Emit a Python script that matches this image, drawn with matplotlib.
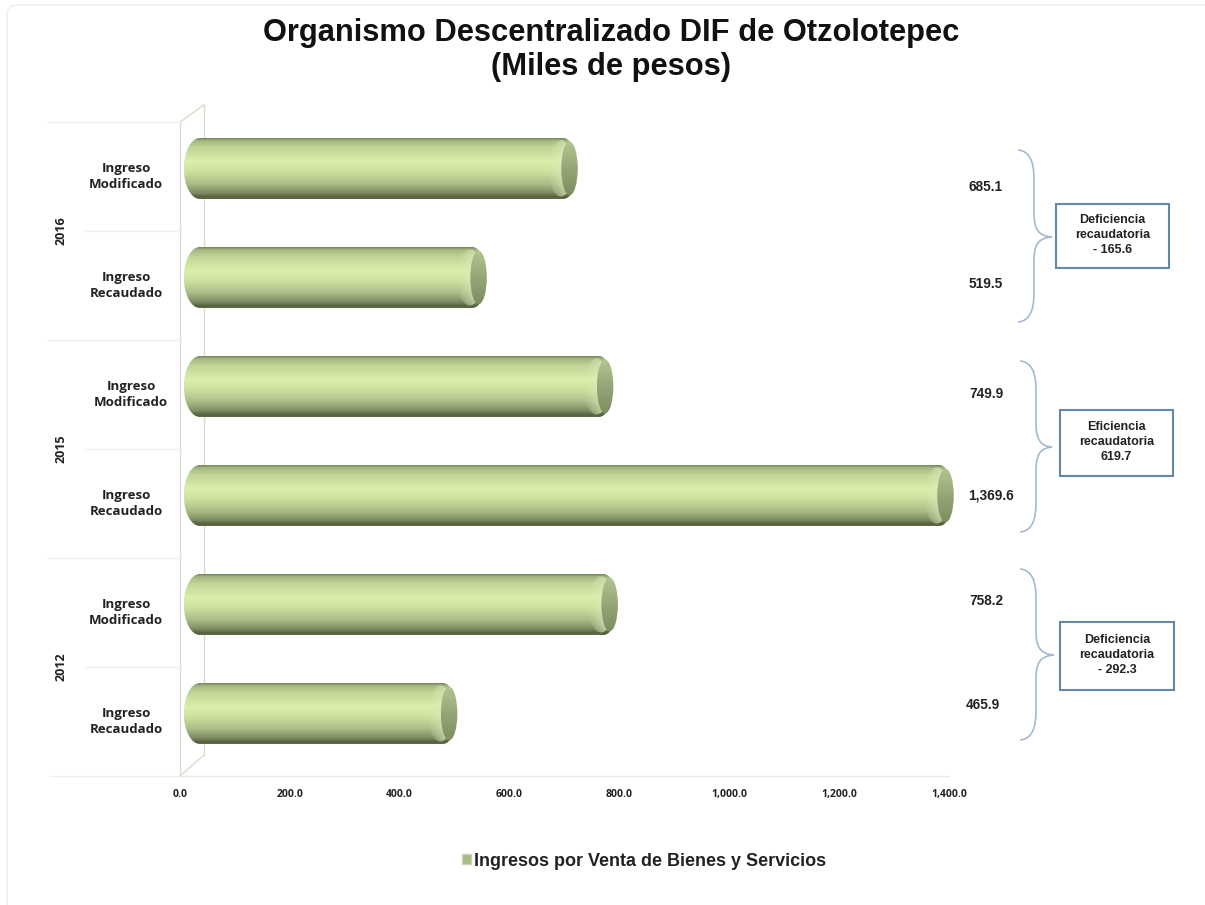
import matplotlib
matplotlib.use('Agg')
import matplotlib.pyplot as plt
import numpy as np
from matplotlib.colors import LinearSegmentedColormap
from matplotlib.patches import Ellipse, FancyBboxPatch, PathPatch, Patch, Rectangle
from matplotlib.path import Path

plt.rcParams['font.family'] = ['Liberation Sans', 'DejaVu Sans']

# data, top of the chart first
years = ['2016', '2015', '2012']
categories = ['Ingreso\nModificado', 'Ingreso\nRecaudado', 'Ingreso\nModificado',
              'Ingreso\nRecaudado', 'Ingreso\nModificado', 'Ingreso\nRecaudado']
values = [685.1, 519.5, 749.9, 1369.6, 758.2, 465.9]
xticks = [0, 200, 400, 600, 800, 1000, 1200, 1400]
notes = ['Deficiencia\nrecaudatoria\n- 165.6', 'Eficiencia\nrecaudatoria\n619.7',
         'Deficiencia\nrecaudatoria\n- 292.3']
series_name = 'Ingresos por Venta de Bienes y Servicios'
title = 'Organismo Descentralizado DIF de Otzolotepec\n(Miles de pesos)'

# layout, in pixels of the 1205x905 picture
W, H = 1205, 905
label_x = [126, 126, 131, 126, 126, 126]
value_pos = [(986, 187), (986, 284), (986, 394), (991, 495), (986, 601), (983, 705)]
year_pos = [(61, 231), (61, 449), (61, 667)]
boxes = [(1056, 204, 113, 64), (1060, 410, 113, 66), (1060, 622, 114, 68)]
braces = [(1018, 150, 322, 1034, 237, 1052), (1020, 361, 532, 1036, 447, 1052),
          (1020, 569, 740, 1036, 655, 1054)]
grid_start = [47, 85, 47, 85, 47, 85, 50]

fig = plt.figure(figsize=(W / 100, H / 100), dpi=100, facecolor='white')

# overlay in picture pixels, for frame and notes
ov = fig.add_axes([0, 0, 1, 1])
ov.set_xlim(0, W)
ov.set_ylim(H, 0)
ov.axis('off')

ax = fig.add_axes([180 / W, 1 - 776 / H, (949 - 180) / W, (776 - 122) / H])
ax.patch.set_alpha(0)
ax.set_xlim(0, 1400)
ax.set_ylim(5.5, -0.5)
for s in ax.spines.values():
    s.set_visible(False)
ax.set_xticks(xticks)
ax.set_xticklabels(['{:,.1f}'.format(t) for t in xticks], fontsize=7.5, fontweight='bold',
                   family=['Open Sans', 'DejaVu Sans'], color='#222222')
ax.tick_params(axis='x', length=0, pad=9)
ax.set_yticks([])

# frame of the chart area
ov.add_patch(FancyBboxPatch((7, 5), 1220, 930, boxstyle='round,pad=0,rounding_size=10',
                            fc='none', ec='#ececec', lw=1, clip_on=True))

# walls of the 3d box
wall = '#d9dcc8'
ov.plot([180, 180], [122, 776], color='#dcdcd4', lw=1)
ov.plot([204, 204], [105, 755], color=wall, lw=1)
ov.plot([180, 204], [122, 105], color=wall, lw=1)
ov.plot([180, 204], [776, 755], color=wall, lw=1)
for i, x0 in enumerate(grid_start):
    yy = 122 + 109 * i
    ov.plot([x0, 180], [yy, yy], color='#f0f0f0', lw=1)
ov.plot([180, 949], [776, 776], color='#e8e8e8', lw=1)

# cylinder look, top to bottom
shade = LinearSegmentedColormap.from_list('cyl', [
    (0.0, '#77865a'), (0.04, '#a3b680'), (0.15, '#c0d496'), (0.38, '#d9efaa'),
    (0.55, '#cde2a0'), (0.75, '#abbd88'), (0.9, '#7f8d62'), (0.97, '#555f40'), (1.0, '#606c4a')])
face = LinearSegmentedColormap.from_list('face', ['#b4c590', '#96a678', '#7f8e62'])
ramp = np.linspace(0, 1, 128).reshape(-1, 1)

# sheen next to the end face, fades in from the left
sheen = np.zeros((1, 64, 4))
sheen[0, :, :3] = [0.87, 0.93, 0.74]
sheen[0, :, 3] = np.linspace(0, 0.8, 64)

bar_h = 61 / 109
up = 8 / 109
k = 0.5523


def cylinder(y, v):
    top, bot = y - up - bar_h / 2, y - up + bar_h / 2
    mid = y - up
    hh = k * bar_h / 2
    xl, rl = 36, 29
    xr, rr = v + 13, 25.5
    body = Path([(xl, top), (xr, top),
                 (xr + k * rr, top), (xr + rr, mid - hh), (xr + rr, mid),
                 (xr + rr, mid + hh), (xr + k * rr, bot), (xr, bot),
                 (xl, bot),
                 (xl - k * rl, bot), (xl - rl, mid + hh), (xl - rl, mid),
                 (xl - rl, mid - hh), (xl - k * rl, top), (xl, top), (xl, top)],
                [Path.MOVETO, Path.LINETO,
                 Path.CURVE4, Path.CURVE4, Path.CURVE4,
                 Path.CURVE4, Path.CURVE4, Path.CURVE4,
                 Path.LINETO,
                 Path.CURVE4, Path.CURVE4, Path.CURVE4,
                 Path.CURVE4, Path.CURVE4, Path.CURVE4, Path.CLOSEPOLY])
    p = PathPatch(body, fc='none', ec='none', transform=ax.transData)
    ax.add_patch(p)
    im = ax.imshow(ramp, cmap=shade, extent=(xl - rl, xr + rr, bot, top), aspect='auto', zorder=2)
    im.set_clip_path(p)
    im.set_clip_box(fig.bbox)
    # light rim, then the end face
    r = Ellipse((v + 8, mid), 46, bar_h * 0.92, fc='none', ec='none', clip_on=False)
    ax.add_patch(r)
    im1 = ax.imshow(sheen, extent=(v - 15, v + 22, bot, top), aspect='auto', zorder=3)
    im1.set_clip_path(r)
    im1.set_clip_box(fig.bbox)
    e = Ellipse((v + 24, mid), 30, bar_h * 0.88, fc='none', ec='none', clip_on=False)
    ax.add_patch(e)
    im2 = ax.imshow(ramp, cmap=face, extent=(v + 9, v + 39, mid + bar_h * 0.44, mid - bar_h * 0.44),
                    aspect='auto', zorder=4)
    im2.set_clip_path(e)
    im2.set_clip_box(fig.bbox)


for i, v in enumerate(values):
    cylinder(i, v)
    ax.text((label_x[i] - 180) / (769 / 1400), i, categories[i], ha='center', va='center',
            fontsize=9.5, fontweight='bold', family=['Open Sans', 'DejaVu Sans'], color='#222222',
            linespacing=1.35, clip_on=False)
    vx, vy = value_pos[i]
    ov.text(vx, vy, '{:,.1f}'.format(v), ha='center', va='center', fontsize=9.8,
            fontweight='bold', color='#222222')
ax.set_xlim(0, 1400)
ax.set_ylim(5.5, -0.5)

for yr, (x, y) in zip(years, year_pos):
    ov.text(x, y, yr, rotation=90, ha='center', va='center', fontsize=9, fontweight='bold',
            family=['Open Sans', 'DejaVu Sans'], color='#222222')

# braces and note boxes
blue = '#a5bacd'
for x0, y0, y1, sx, ty, tx in braces:
    verts = [(x0, y0), (sx - 4, y0 + 1), (sx, y0 + 12), (sx, y0 + 30),
             (sx, ty - 24), (sx, ty - 8), (sx + 4, ty - 1), (tx, ty),
             (sx + 4, ty + 1), (sx, ty + 8), (sx, ty + 24),
             (sx, y1 - 30), (sx, y1 - 12), (sx - 4, y1 - 1), (x0, y1)]
    codes = [Path.MOVETO, Path.CURVE4, Path.CURVE4, Path.CURVE4,
             Path.LINETO, Path.CURVE4, Path.CURVE4, Path.CURVE4,
             Path.CURVE4, Path.CURVE4, Path.CURVE4,
             Path.LINETO, Path.CURVE4, Path.CURVE4, Path.CURVE4]
    ov.add_patch(PathPatch(Path(verts, codes), fc='none', ec=blue, lw=1.2))

for (x, y, w, h), note in zip(boxes, notes):
    ov.add_patch(Rectangle((x, y), w, h, fc='white', ec='#6389aa', lw=1.5))
    ov.text(x + w / 2, y + h / 2 - 1, note, ha='center', va='center', fontsize=9,
            fontweight='bold', color='#222222', linespacing=1.35)

ov.text(611, 50, title, ha='center', va='center', fontsize=22.2, fontweight='bold',
        color='#111111', linespacing=1.2)

leg = fig.legend(handles=[Patch(fc='#a9bb86', ec='#c8d6b0', label=series_name)], frameon=False,
                 loc='center', bbox_to_anchor=(644 / W, 1 - 861 / H), handlelength=0.5,
                 handleheight=0.5, handletextpad=0.2, borderpad=0,
                 prop={'size': 13, 'weight': 'bold'})
leg.get_texts()[0].set_color('#222222')

fig.savefig('out.png', dpi=100)
